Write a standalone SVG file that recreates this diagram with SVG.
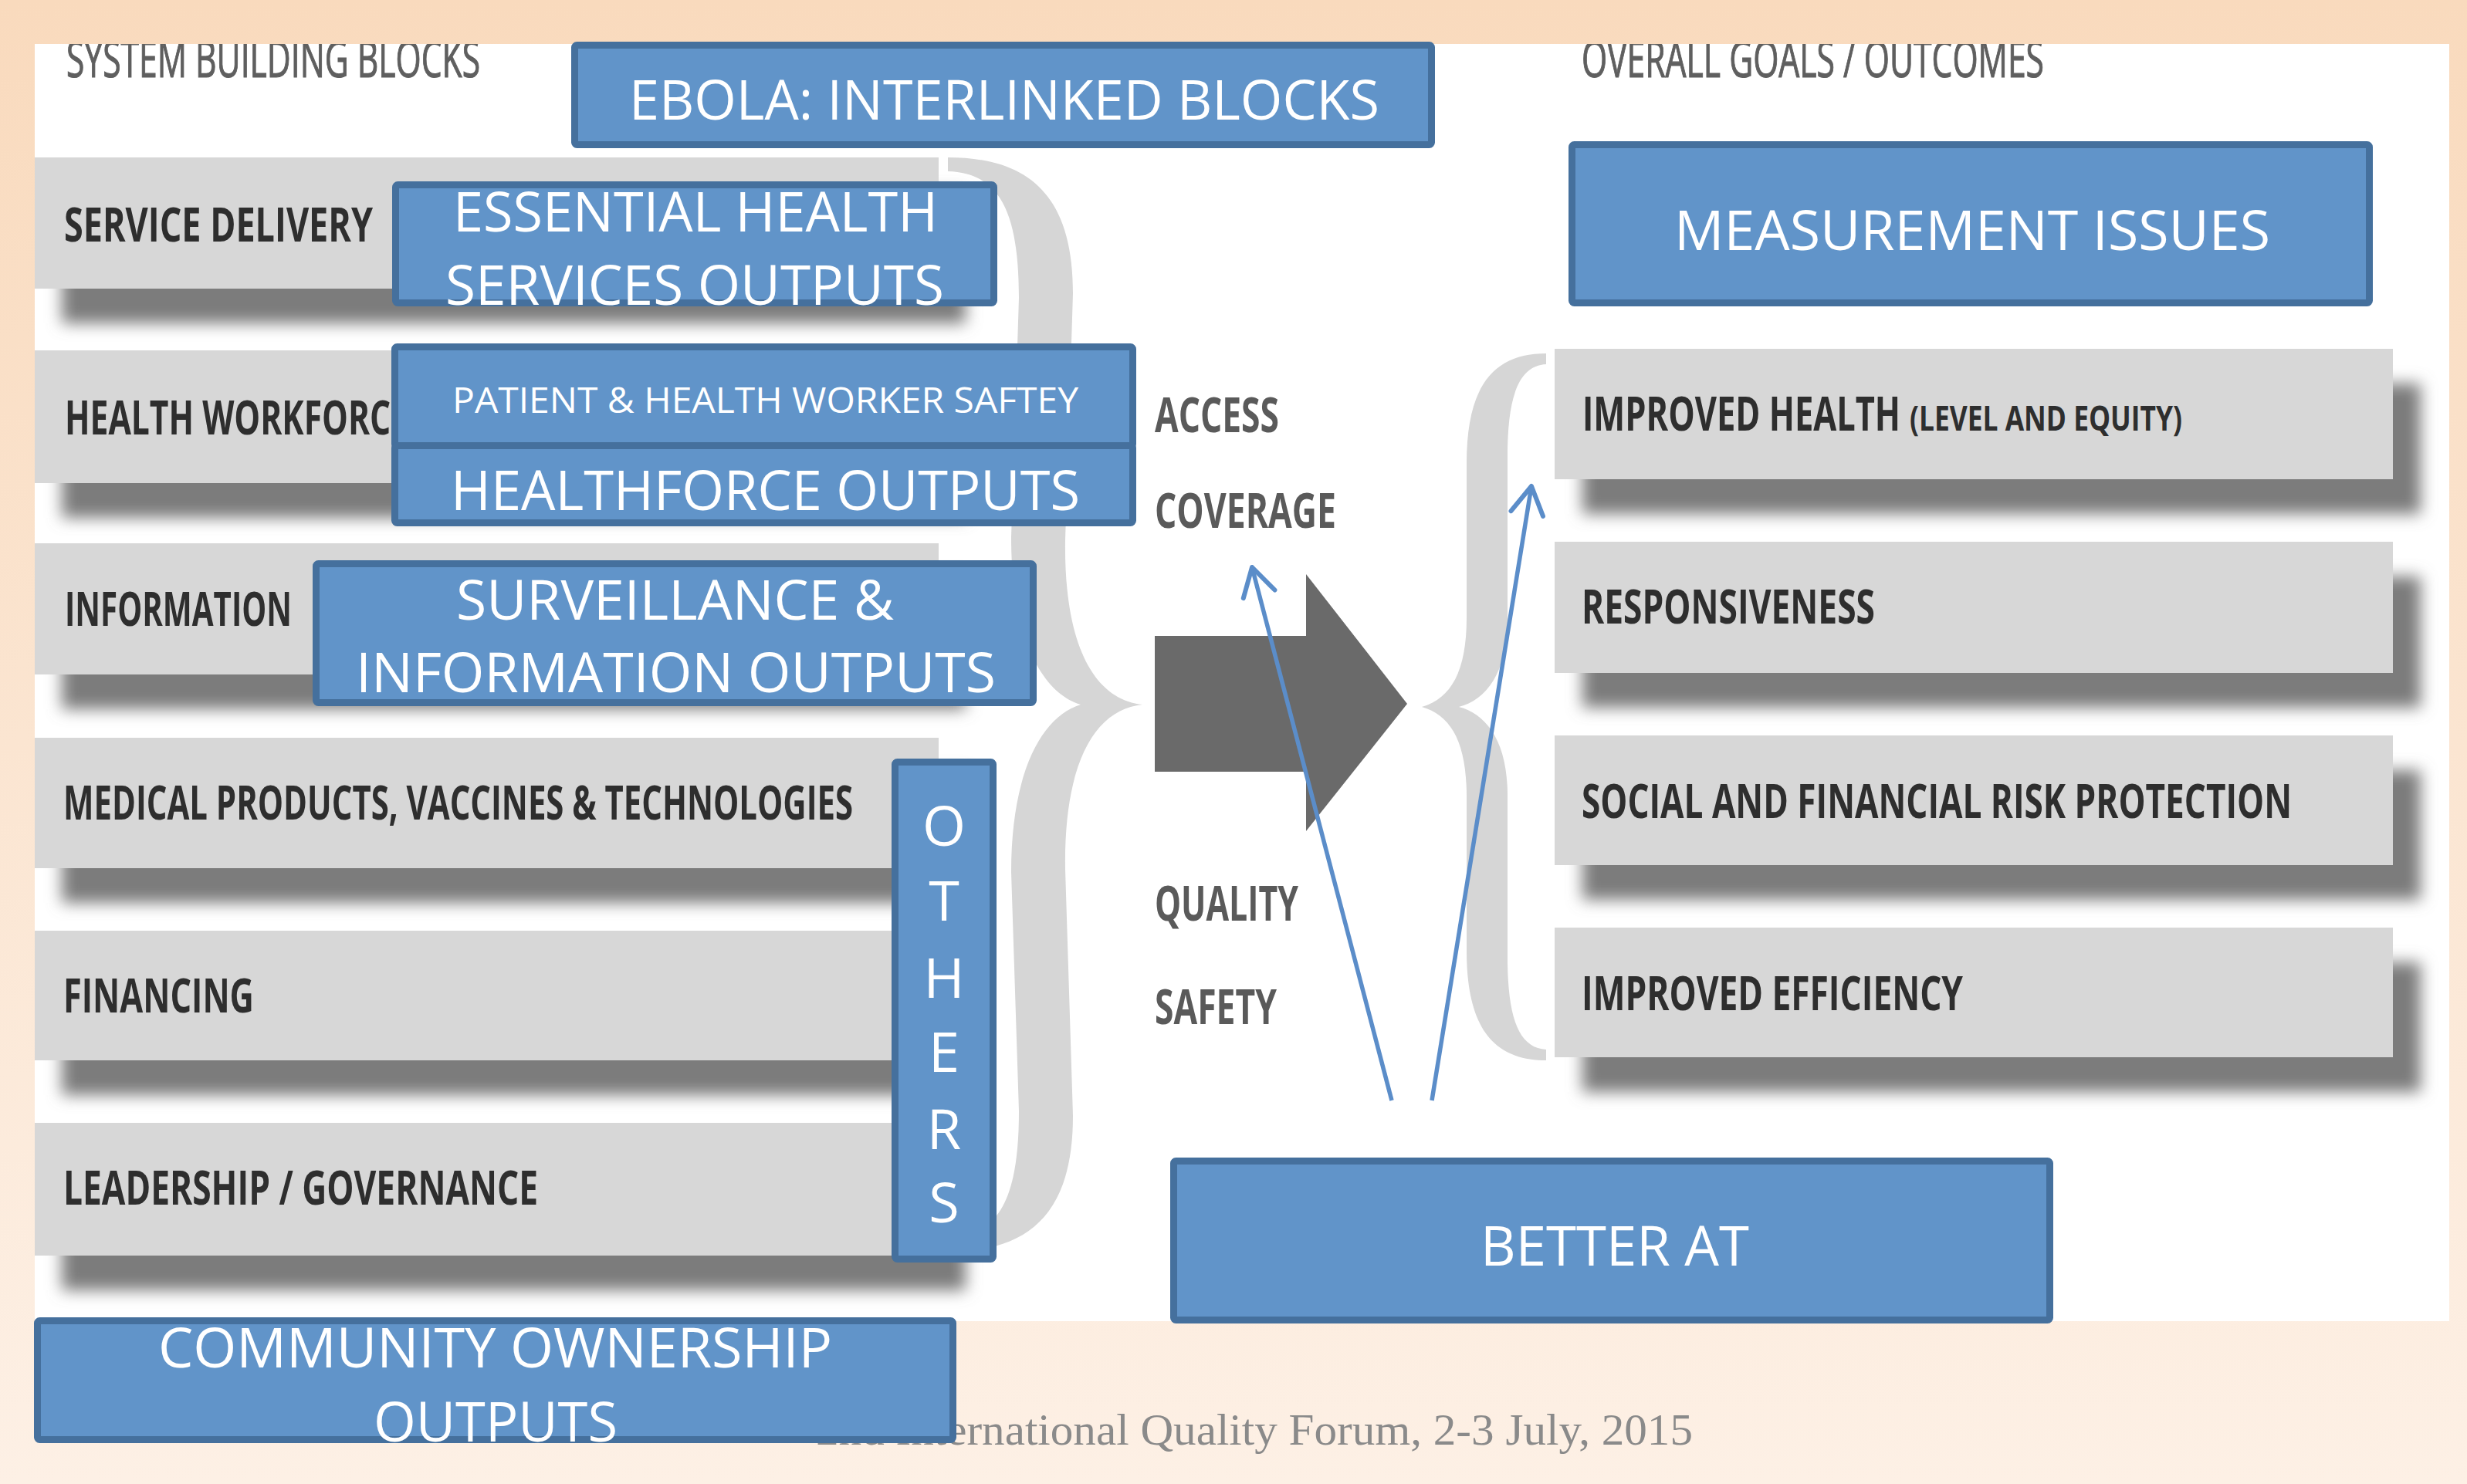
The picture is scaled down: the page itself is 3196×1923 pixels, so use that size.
<svg xmlns="http://www.w3.org/2000/svg" width="3196" height="1923" viewBox="0 0 3196 1923">
<defs>
<linearGradient id="bg" x1="0" y1="0" x2="0" y2="1">
<stop offset="0" stop-color="#F9DABD"/>
<stop offset="1" stop-color="#FDF0E5"/>
</linearGradient>
<filter id="sh" x="-5%" y="-40%" width="110%" height="180%">
<feGaussianBlur stdDeviation="10"/>
</filter>
<clipPath id="panelClip"><rect x="45" y="57" width="3128" height="1655"/></clipPath>
<marker id="openArrow" markerUnits="userSpaceOnUse" markerWidth="80" markerHeight="80" refX="0" refY="0" orient="auto" overflow="visible">
<path d="M -36 -21 L 0 0 L -36 21" fill="none" stroke="#5B8DC9" stroke-width="6" stroke-linecap="round" stroke-linejoin="round"/>
</marker>
<style>
.bar{fill:#D7D7D7}
.shd{fill:#7b7b7b;filter:url(#sh)}
.lbl{font-family:"Liberation Sans Narrow","Open Sans",sans-serif;font-weight:700;font-size:60px;fill:#2e2e2e}
.sml{font-family:"Liberation Sans Narrow","Open Sans",sans-serif;font-weight:700;font-size:44px;fill:#2e2e2e}
.hdr{font-family:"Liberation Sans Narrow","Open Sans",sans-serif;font-weight:400;font-size:66px;fill:#5f5f5f;stroke:#5f5f5f;stroke-width:1.2}
.mid{font-family:"Open Sans","Liberation Sans",sans-serif;font-weight:700;font-size:62px;fill:#5a5a5a}
.box{fill:#6194C9;stroke:#45709D;stroke-width:9}
.bt{font-family:"Open Sans","Liberation Sans",sans-serif;font-weight:400;font-size:72px;fill:#ffffff}
.bts{font-family:"Open Sans","Liberation Sans",sans-serif;font-weight:400;font-size:46px;fill:#ffffff}
.brace{fill:#D6D6D6}
.conn{fill:none;stroke:#5B8DC9;stroke-width:5.5;marker-end:url(#openArrow)}
.foot{font-family:"Liberation Serif",serif;font-size:58px;fill:#8a8a8a}
</style>
</defs>

<rect x="0" y="0" width="3196" height="1923" fill="url(#bg)"/>
<rect x="45" y="57" width="3128" height="1655" fill="#ffffff"/>

<g id="headers" clip-path="url(#panelClip)">
<text class="hdr" x="86" y="100" textLength="536" lengthAdjust="spacingAndGlyphs">SYSTEM BUILDING BLOCKS</text>
<text class="hdr" x="2049" y="100" textLength="599" lengthAdjust="spacingAndGlyphs">OVERALL GOALS / OUTCOMES</text>
</g>

<g id="big-arrow">
<polygon points="1496,824 1692,824 1692,744 1823,912 1692,1077 1692,1000 1496,1000" fill="#6A6A6A"/>
</g>

<g id="block-service-delivery">
<rect class="shd" x="80" y="249" width="1171" height="170"/>
<rect class="bar" x="45" y="204" width="1171" height="170"/>
<text class="lbl" x="83" y="313" textLength="400" lengthAdjust="spacingAndGlyphs">SERVICE DELIVERY</text>
</g>
<g id="block-health-workforce">
<rect class="shd" x="80" y="499" width="1171" height="172"/>
<rect class="bar" x="45" y="454" width="1171" height="172"/>
<text class="lbl" x="84" y="563" textLength="446" lengthAdjust="spacingAndGlyphs">HEALTH WORKFORCE</text>
</g>
<g id="block-information">
<rect class="shd" x="80" y="749" width="1171" height="170"/>
<rect class="bar" x="45" y="704" width="1171" height="170"/>
<text class="lbl" x="84" y="811" textLength="294" lengthAdjust="spacingAndGlyphs">INFORMATION</text>
</g>
<g id="block-medical">
<rect class="shd" x="80" y="1001" width="1171" height="169"/>
<rect class="bar" x="45" y="956" width="1171" height="169"/>
<text class="lbl" x="82" y="1062" textLength="1023" lengthAdjust="spacingAndGlyphs">MEDICAL PRODUCTS, VACCINES &amp; TECHNOLOGIES</text>
</g>
<g id="block-financing">
<rect class="shd" x="80" y="1251" width="1171" height="168"/>
<rect class="bar" x="45" y="1206" width="1171" height="168"/>
<text class="lbl" x="82" y="1312" textLength="247" lengthAdjust="spacingAndGlyphs">FINANCING</text>
</g>
<g id="block-leadership">
<rect class="shd" x="80" y="1500" width="1171" height="172"/>
<rect class="bar" x="45" y="1455" width="1171" height="172"/>
<text class="lbl" x="82" y="1561" textLength="615" lengthAdjust="spacingAndGlyphs">LEADERSHIP / GOVERNANCE</text>
</g>

<g id="goal-improved-health">
<rect class="shd" x="2050" y="497" width="1086" height="169"/>
<rect class="bar" x="2014" y="452" width="1086" height="169"/>
<text class="lbl" x="2050" y="558" textLength="412" lengthAdjust="spacingAndGlyphs">IMPROVED HEALTH</text>
<text class="sml" x="2474" y="558" textLength="353" lengthAdjust="spacingAndGlyphs">(LEVEL AND EQUITY)</text>
</g>
<g id="goal-responsiveness">
<rect class="shd" x="2050" y="747" width="1086" height="170"/>
<rect class="bar" x="2014" y="702" width="1086" height="170"/>
<text class="lbl" x="2049" y="808" textLength="380" lengthAdjust="spacingAndGlyphs">RESPONSIVENESS</text>
</g>
<g id="goal-risk-protection">
<rect class="shd" x="2050" y="998" width="1086" height="168"/>
<rect class="bar" x="2014" y="953" width="1086" height="168"/>
<text class="lbl" x="2049" y="1060" textLength="920" lengthAdjust="spacingAndGlyphs">SOCIAL AND FINANCIAL RISK PROTECTION</text>
</g>
<g id="goal-efficiency">
<rect class="shd" x="2050" y="1247" width="1086" height="168"/>
<rect class="bar" x="2014" y="1202" width="1086" height="168"/>
<text class="lbl" x="2049" y="1309" textLength="494" lengthAdjust="spacingAndGlyphs">IMPROVED EFFICIENCY</text>
</g>

<g id="braces">
<path class="brace" d="M 1228 204 C 1330 204, 1390 250, 1390 380 L 1380 700 C 1378 840, 1420 907, 1480 913 C 1420 919, 1378 986, 1380 1126 L 1390 1446 C 1390 1576, 1330 1622, 1228 1622 L 1228 1604 C 1290 1602, 1320 1560, 1320 1440 L 1310 1130 C 1310 1000, 1350 928, 1400 913 C 1350 898, 1310 826, 1310 696 L 1320 386 C 1320 266, 1290 224, 1228 222 Z"/>
<path class="brace" d="M 2003 458 C 1935 458, 1900 500, 1900 600 L 1900 800 C 1900 870, 1880 905, 1842 916 C 1880 927, 1900 962, 1900 1032 L 1900 1232 C 1900 1332, 1935 1374, 2003 1374 L 2003 1360 C 1968 1358, 1953 1320, 1953 1240 L 1953 1030 C 1953 960, 1925 925, 1890 916 C 1925 907, 1953 872, 1953 802 L 1953 592 C 1953 512, 1968 474, 2003 472 Z"/>
</g>

<g id="dimensions">
<text class="mid" x="1496" y="560" textLength="161" lengthAdjust="spacingAndGlyphs">ACCESS</text>
<text class="mid" x="1496" y="684" textLength="235" lengthAdjust="spacingAndGlyphs">COVERAGE</text>
<text class="mid" x="1496" y="1193" textLength="186" lengthAdjust="spacingAndGlyphs">QUALITY</text>
<text class="mid" x="1496" y="1327" textLength="158" lengthAdjust="spacingAndGlyphs">SAFETY</text>
</g>

<g id="footer">
<text class="foot" x="1057" y="1872" textLength="1136" lengthAdjust="spacingAndGlyphs">2nd International Quality Forum, 2-3 July, 2015</text>
</g>

<g id="box-ebola">
<rect class="box" x="744.5" y="58.5" width="1110" height="129" rx="3"/>
<text class="bt" x="815" y="155" textLength="972" lengthAdjust="spacingAndGlyphs">EBOLA: INTERLINKED BLOCKS</text>
</g>
<g id="box-essential">
<rect class="box" x="512.5" y="239.5" width="775" height="153" rx="3"/>
<text class="bt" x="587" y="300" textLength="628" lengthAdjust="spacingAndGlyphs">ESSENTIAL HEALTH</text>
<text class="bt" x="577" y="395" textLength="646" lengthAdjust="spacingAndGlyphs">SERVICES OUTPUTS</text>
</g>
<g id="box-patient">
<rect class="box" x="511.5" y="449.5" width="956" height="129" rx="3"/>
<text class="bts" x="586" y="535" textLength="811" lengthAdjust="spacingAndGlyphs">PATIENT &amp; HEALTH WORKER SAFTEY</text>
</g>
<g id="box-healthforce">
<rect class="box" x="511.5" y="577.5" width="956" height="100" rx="3"/>
<text class="bt" x="584" y="661" textLength="815" lengthAdjust="spacingAndGlyphs">HEALTHFORCE OUTPUTS</text>
</g>
<g id="box-surveillance">
<rect class="box" x="409.5" y="730.5" width="929" height="180" rx="3"/>
<text class="bt" x="591" y="803" textLength="567" lengthAdjust="spacingAndGlyphs">SURVEILLANCE &amp;</text>
<text class="bt" x="461" y="897" textLength="829" lengthAdjust="spacingAndGlyphs">INFORMATION OUTPUTS</text>
</g>
<g id="box-others">
<rect class="box" x="1159.5" y="987.5" width="127" height="644" rx="3"/>
<text class="bt" text-anchor="middle" x="1223" y="1096">O</text>
<text class="bt" text-anchor="middle" x="1223" y="1193">T</text>
<text class="bt" text-anchor="middle" x="1223" y="1293">H</text>
<text class="bt" text-anchor="middle" x="1223" y="1389">E</text>
<text class="bt" text-anchor="middle" x="1223" y="1489">R</text>
<text class="bt" text-anchor="middle" x="1223" y="1584">S</text>
</g>
<g id="box-community">
<rect class="box" x="48.5" y="1711.5" width="1186" height="154" rx="3"/>
<text class="bt" x="205" y="1772" textLength="873" lengthAdjust="spacingAndGlyphs">COMMUNITY OWNERSHIP</text>
<text class="bt" x="484" y="1868" textLength="316" lengthAdjust="spacingAndGlyphs">OUTPUTS</text>
</g>
<g id="box-measurement">
<rect class="box" x="2036.5" y="187.5" width="1033" height="205" rx="3"/>
<text class="bt" x="2169" y="324" textLength="772" lengthAdjust="spacingAndGlyphs">MEASUREMENT ISSUES</text>
</g>
<g id="box-better-at">
<rect class="box" x="1520.5" y="1504.5" width="1135" height="206" rx="3"/>
<text class="bt" x="1918" y="1640" textLength="348" lengthAdjust="spacingAndGlyphs">BETTER AT</text>
</g>

<g id="connectors">
<line class="conn" x1="1803" y1="1426" x2="1622" y2="735"/>
<line class="conn" x1="1855" y1="1426" x2="1984" y2="630"/>
</g>
</svg>
